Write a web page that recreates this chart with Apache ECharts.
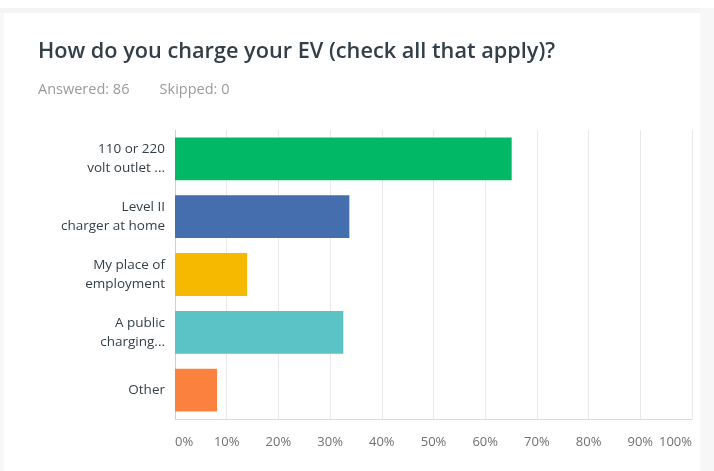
<!DOCTYPE html>
<html>
<head>
<meta charset="utf-8">
<script src="https://cdn.jsdelivr.net/npm/echarts@6/dist/echarts.min.js"></script>
<style>
html,body{margin:0;padding:0;background:#fff;}
#c{width:714px;height:471px;}
</style>
</head>
<body>
<div id="c"></div>
<script>
const categories = ["110 or 220\nvolt outlet ...", "Level II\ncharger at home", "My place of\nemployment", "A public\ncharging...", "Other"];
const values = [65.12, 33.72, 13.95, 32.56, 8.14];
const barColors = ["#00b865", "#446ead", "#f6b900", "#5bc2c6", "#fb813f"];
const tickLabels = ["0%", "10%", "20%", "30%", "40%", "50%", "60%", "70%", "80%", "90%", "100%"];

const chart = echarts.init(document.getElementById('c'));
chart.setOption({
  animation: false,
  backgroundColor: '#ffffff',
  graphic: [
    {type: 'rect', shape: {x: 0, y: 8, width: 714, height: 5}, style: {fill: '#f4f4f4'}, silent: true},
    {type: 'rect', shape: {x: 700, y: 8, width: 14, height: 463}, style: {fill: '#f7f7f7'}, silent: true},
    {type: 'rect', shape: {x: 0, y: 13, width: 4, height: 458}, style: {fill: '#f7f7f7'}, silent: true}
  ],
  title: [
    {text: 'How do you charge your EV (check all that apply)?', left: 33, top: 36,
     textStyle: {fontFamily: 'Open Sans', fontWeight: 600, fontSize: 21.7, color: '#333e48'}},
    {text: 'Answered: 86        Skipped: 0', left: 33, top: 77,
     textStyle: {fontFamily: 'Open Sans', fontWeight: 400, fontSize: 14.5, color: '#9b9b9b'}}
  ],
  grid: {left: 175, right: 22, top: 130, bottom: 52, containLabel: false},
  xAxis: {
    type: 'value', min: 0, max: 100, interval: 10,
    axisLine: {show: true, onZero: false, lineStyle: {color: '#dcdcdc'}},
    axisTick: {show: false},
    splitLine: {show: true, lineStyle: {color: '#e9e9e9', width: 1}},
    axisLabel: {
      formatter: (v) => tickLabels[Math.round(v / 10)],
      color: '#707070', fontFamily: 'Open Sans', fontSize: 13, margin: 17,
      alignMinLabel: 'left', alignMaxLabel: 'right'
    }
  },
  yAxis: {
    type: 'category', data: categories, inverse: true,
    axisLine: {show: true, lineStyle: {color: '#cfcfcf'}},
    axisTick: {show: false},
    axisLabel: {color: '#333e48', fontFamily: 'Open Sans', fontSize: 13.5, lineHeight: 19, margin: 10, align: 'right'}
  },
  series: [{
    type: 'bar',
    data: values.map((v, i) => ({value: v, itemStyle: {color: barColors[i]}})),
    barWidth: '74%',
    silent: true
  }]
});
</script>
</body>
</html>
